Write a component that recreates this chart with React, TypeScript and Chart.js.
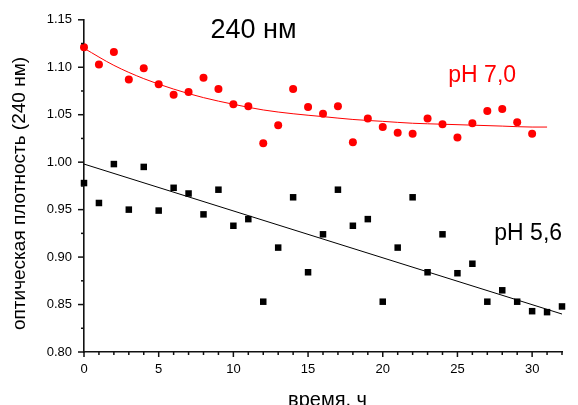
import React, { useEffect, useRef } from "react";
import { Chart, registerables } from "chart.js";

Chart.register(...registerables);

// ---- data ----
const hours = [0, 1, 2, 3, 4, 5, 6, 7, 8, 9, 10, 11, 12, 13, 14, 15, 16, 17, 18, 19, 20, 21, 22, 23, 24, 25, 26, 27, 28, 29, 30, 31, 32];
const ph70 = [1.121, 1.103, 1.116, 1.087, 1.099, 1.082, 1.071, 1.074, 1.089, 1.077, 1.061, 1.059, 1.020, 1.039, 1.077, 1.058, 1.051, 1.059, 1.021, 1.046, 1.037, 1.031, 1.030, 1.046, 1.040, 1.026, 1.041, 1.054, 1.056, 1.042, 1.030];
const ph56 = [0.978, 0.957, 0.998, 0.950, 0.995, 0.949, 0.973, 0.967, 0.945, 0.971, 0.933, 0.940, 0.853, 0.910, 0.963, 0.884, 0.924, 0.971, 0.933, 0.940, 0.853, 0.910, 0.963, 0.884, 0.924, 0.883, 0.893, 0.853, 0.865, 0.853, 0.843, 0.842, 0.848];
const fit70X = [0, 2, 4, 6, 8, 10, 12, 14, 16, 18, 20, 22, 24, 26, 28, 30, 31];
const fit70Y = [1.120, 1.102, 1.088, 1.077, 1.068, 1.061, 1.055, 1.051, 1.048, 1.045, 1.043, 1.041, 1.040, 1.039, 1.038, 1.037, 1.037];
const fit56X = [0, 32];
const fit56Y = [0.998, 0.840];
const xTicks = [0, 5, 10, 15, 20, 25, 30];
const yTicks = [0.8, 0.85, 0.9, 0.95, 1.0, 1.05, 1.1, 1.15];
const xMinor = hours;
const yMinor = [0.8, 0.825, 0.85, 0.875, 0.9, 0.925, 0.95, 0.975, 1.0, 1.025, 1.05, 1.075, 1.1, 1.125, 1.15];

const titleText = "240 нм";
const label70 = "pH 7,0";
const label56 = "pH 5,6";
const xTitle = "время, ч";
const yTitle = "оптическая плотность (240 нм)";

const FONT = "'Liberation Sans', Arial, sans-serif";

const decorPlugin = {
  id: "decor",
  afterDraw(chart: any) {
    const ctx = chart.ctx;
    const xs = chart.scales.x;
    const ys = chart.scales.y;
    const area = chart.chartArea;
    ctx.save();
    ctx.strokeStyle = "#111";
    ctx.lineWidth = 1.5;
    // x ticks
    xMinor.forEach((v) => {
      const px = xs.getPixelForValue(v);
      const len = v % 5 === 0 ? 5 : 3;
      ctx.beginPath();
      ctx.moveTo(px, area.bottom);
      ctx.lineTo(px, area.bottom + len);
      ctx.stroke();
    });
    yMinor.forEach((v, i) => {
      const py = ys.getPixelForValue(v);
      const len = i % 2 === 0 ? 6 : 3;
      ctx.beginPath();
      ctx.moveTo(area.left, py);
      ctx.lineTo(area.left - len, py);
      ctx.stroke();
    });

    const txt = (t: string, x: number, y: number, size: number, color: string, align: CanvasTextAlign = "left") => {
      ctx.font = `${size}px ${FONT}`;
      ctx.fillStyle = color;
      ctx.textAlign = align;
      ctx.textBaseline = "alphabetic";
      ctx.fillText(t, x, y);
    };
    txt(titleText, 210.5, 37.7, 27, "#000");
    txt(label70, 448.3, 81.7, 23, "#ff0000");
    txt(label56, 494.3, 240, 23, "#000");
    txt(xTitle, 327.5, 405.5, 20, "#000", "center");

    ctx.translate(25, 193.5);
    ctx.rotate(-Math.PI / 2);
    txt(yTitle, 0, 0, 19, "#000", "center");
    ctx.restore();
  },
};

export default function App() {
  const ref = useRef<HTMLCanvasElement | null>(null);
  useEffect(() => {
    document.body.style.margin = "0";
    const canvas = ref.current!;
    const chart = new Chart(canvas, {
      type: "scatter",
      data: {
        datasets: [
          {
            type: "scatter",
            data: ph70.map((y, i) => ({ x: hours[i], y })),
            backgroundColor: "#ff0000",
            borderColor: "#ff0000",
            pointStyle: "circle",
            pointRadius: 4,
            borderWidth: 0,
            clip: false,
          } as any,
          {
            type: "scatter",
            data: ph56.map((y, i) => ({ x: hours[i], y })),
            backgroundColor: "#000",
            borderColor: "#000",
            pointStyle: "rect",
            pointRadius: 4.6,
            borderWidth: 0,
            clip: false,
          } as any,
          {
            type: "line",
            data: fit70Y.map((y, i) => ({ x: fit70X[i], y })),
            borderColor: "#ff0000",
            borderWidth: 1,
            pointRadius: 0,
            cubicInterpolationMode: "monotone",
            fill: false,
          } as any,
          {
            type: "line",
            data: fit56Y.map((y, i) => ({ x: fit56X[i], y })),
            borderColor: "#000",
            borderWidth: 1,
            pointRadius: 0,
            fill: false,
          } as any,
        ],
      },
      options: {
        animation: false,
        responsive: false,
        devicePixelRatio: 1,
        events: [],
        layout: { padding: { top: 18, right: 16, left: 0, bottom: 0 } },
        plugins: { legend: { display: false }, tooltip: { enabled: false }, title: { display: false } },
        scales: {
          x: {
            type: "linear",
            min: 0,
            max: 32,
            grid: { display: false, drawTicks: false },
            border: { display: true, color: "#111", width: 1.6 },
            afterBuildTicks: (axis: any) => {
              axis.ticks = xTicks.map((v) => ({ value: v }));
            },
            afterFit: (scale: any) => {
              scale.height = 53;
            },
            ticks: {
              autoSkip: false,
              maxRotation: 0,
              padding: 10,
              color: "#000",
              font: { family: FONT, size: 13 },
              callback: (v: any) => String(v),
            },
          },
          y: {
            type: "linear",
            min: 0.8,
            max: 1.15,
            grid: { display: false, drawTicks: false },
            border: { display: true, color: "#111", width: 1.6 },
            afterBuildTicks: (axis: any) => {
              axis.ticks = yTicks.map((v) => ({ value: v }));
            },
            afterFit: (scale: any) => {
              scale.width = 84;
            },
            ticks: {
              padding: 12,
              color: "#000",
              font: { family: FONT, size: 13 },
              callback: (v: any) => Number(v).toFixed(2),
            },
          },
        },
      } as any,
      plugins: [decorPlugin],
    });
    return () => chart.destroy();
  }, []);
  return (
    <div style={{ position: "absolute", left: 0, top: 0, width: 578, height: 405, background: "#fff" }}>
      <canvas ref={ref} width={578} height={405} style={{ display: "block", width: 578, height: 405 }} />
    </div>
  );
}
